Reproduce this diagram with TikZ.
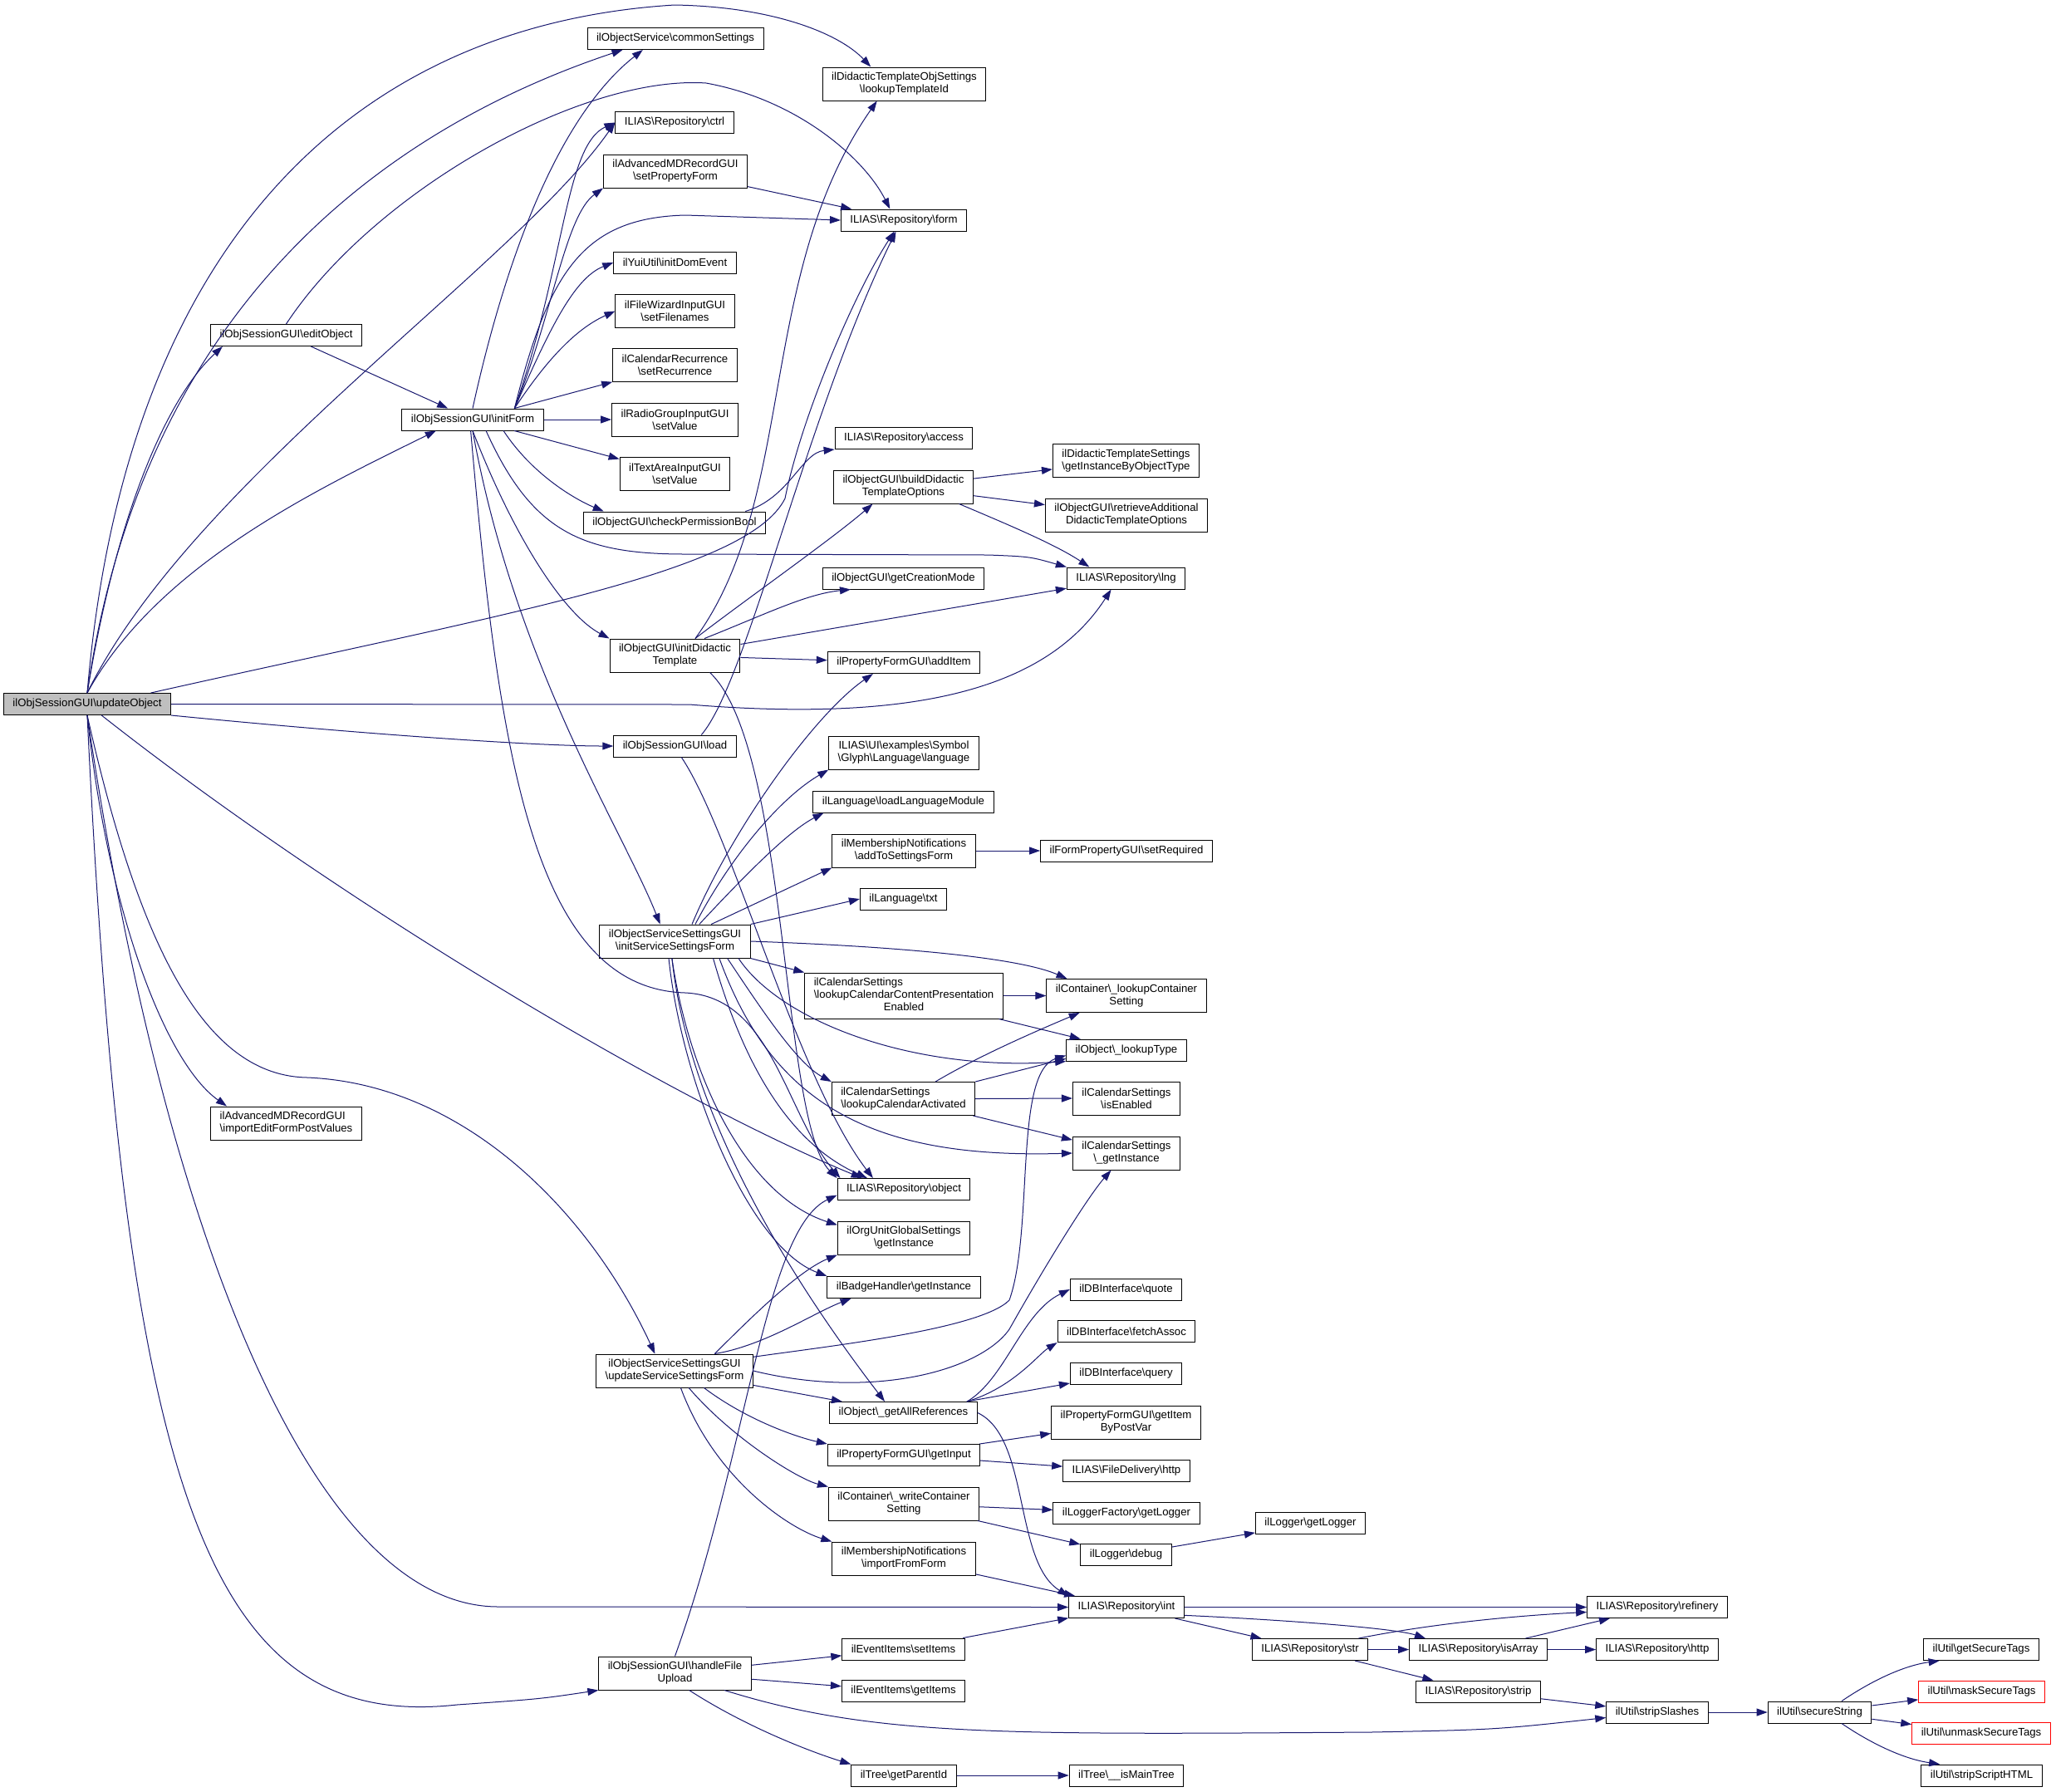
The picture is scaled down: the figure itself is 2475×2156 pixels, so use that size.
\documentclass[tikz,border=0pt]{standalone}
\usepackage{fontspec}
\setmainfont{Liberation Sans}
\usepackage{tikz}
\usetikzlibrary{arrows.meta}

\definecolor{edgeblue}{RGB}{25,25,112}
\definecolor{mainfill}{RGB}{191,191,191}
\newcommand{\bsl}{\textbackslash}
\newcommand{\boxfont}{\fontsize{13.2}{15.1}\selectfont}

\tikzset{
  fn/.style={draw=black, fill=white, line width=1pt, inner xsep=11pt, inner ysep=0pt,
    minimum height=26pt, align=center, font=\boxfont},
  fn2/.style={fn, minimum height=40pt},
  fn3/.style={fn, minimum height=55pt},
  call/.style={draw=edgeblue, line width=1pt, ->},
  >={Triangle[length=13pt,width=9pt]}
}

\begin{document}
\begin{tikzpicture}[x=1pt, y=-1pt]
\fill [white] (0,0) rectangle (2475,2156);
\useasboundingbox (0,0) rectangle (2475,2156);

% caller and first level
\node[fn, fill=mainfill] (upd) at (105,847.5) {ilObjSessionGUI\bsl updateObject};
\node[fn] (editobj) at (344.5,403.5) {ilObjSessionGUI\bsl editObject};
\node[fn2, align=left] (importedit) at (344.5,1352) {ilAdvancedMDRecordGUI\\\bsl importEditFormPostValues};
\node[fn] (initform) at (569,505) {ilObjSessionGUI\bsl initForm};

% column of callees
\node[fn] (commset) at (813,46.5) {ilObjectService\bsl commonSettings};
\node[fn] (ctrl) at (812,147.5) {ILIAS\bsl Repository\bsl ctrl};
\node[fn2] (setprop) at (813,206) {ilAdvancedMDRecordGUI\\\bsl setPropertyForm};
\node[fn] (domev) at (812.5,316) {ilYuiUtil\bsl initDomEvent};
\node[fn2] (setfiles) at (812.5,374.5) {ilFileWizardInputGUI\\\bsl setFilenames};
\node[fn2] (setrec) at (812.5,439.5) {ilCalendarRecurrence\\\bsl setRecurrence};
\node[fn2] (radioval) at (812.5,505) {ilRadioGroupInputGUI\\\bsl setValue};
\node[fn2] (textval) at (812.5,570.5) {ilTextAreaInputGUI\\\bsl setValue};
\node[fn] (checkperm) at (812,629) {ilObjectGUI\bsl checkPermissionBool};
\node[fn2] (initdid) at (812.5,789) {ilObjectGUI\bsl initDidactic\\Template};
\node[fn] (load) at (812.5,898) {ilObjSessionGUI\bsl load};
\node[fn2] (initsvc) at (812.5,1133) {ilObjectServiceSettingsGUI\\\bsl initServiceSettingsForm};
\node[fn2] (updsvc) at (812,1650) {ilObjectServiceSettingsGUI\\\bsl updateServiceSettingsForm};
\node[fn2] (upload) at (812.5,2014) {ilObjSessionGUI\bsl handleFile\\Upload};

% next column
\node[fn2] (tplid) at (1088.5,101) {ilDidacticTemplateObjSettings\\\bsl lookupTemplateId};
\node[fn] (form) at (1088,265) {ILIAS\bsl Repository\bsl form};
\node[fn] (access) at (1088,527.5) {ILIAS\bsl Repository\bsl access};
\node[fn2] (builddid) at (1087.5,586) {ilObjectGUI\bsl buildDidactic\\TemplateOptions};
\node[fn] (creamode) at (1087.5,696) {ilObjectGUI\bsl getCreationMode};
\node[fn] (additem) at (1088,797.5) {ilPropertyFormGUI\bsl addItem};
\node[fn2] (language) at (1088,906) {ILIAS\bsl UI\bsl examples\bsl Symbol\\\bsl Glyph\bsl Language\bsl language};
\node[fn] (loadlang) at (1087.5,965) {ilLanguage\bsl loadLanguageModule};
\node[fn2] (addsettings) at (1088,1024) {ilMembershipNotifications\\\bsl addToSettingsForm};
\node[fn] (txt) at (1087.5,1082) {ilLanguage\bsl txt};
\node[fn3] (calpres) at (1088,1198.5) {\begin{tabular}{@{}l@{}}ilCalendarSettings\\\bsl lookupCalendarContentPresentation\\\multicolumn{1}{@{}c@{}}{Enabled}\end{tabular}};
\node[fn2, align=left] (calact) at (1087.5,1322.5) {ilCalendarSettings\\\bsl lookupCalendarActivated};
\node[fn] (object) at (1088,1431.5) {ILIAS\bsl Repository\bsl object};
\node[fn2] (orgunit) at (1088,1490) {ilOrgUnitGlobalSettings\\\bsl getInstance};
\node[fn] (badge) at (1088,1549.5) {ilBadgeHandler\bsl getInstance};
\node[fn] (allrefs) at (1087.5,1700.5) {ilObject\bsl\_getAllReferences};
\node[fn] (getinput) at (1088,1751.5) {ilPropertyFormGUI\bsl getInput};
\node[fn2] (writecont) at (1088,1810) {ilContainer\bsl\_writeContainer\\Setting};
\node[fn2] (importform) at (1088,1876) {ilMembershipNotifications\\\bsl importFromForm};
\node[fn] (setitems) at (1087.5,1985) {ilEventItems\bsl setItems};
\node[fn] (getitems) at (1087.5,2035.5) {ilEventItems\bsl getItems};
\node[fn] (parentid) at (1088,2137) {ilTree\bsl getParentId};

% third column
\node[fn2] (instbytype) at (1355.5,554.5) {ilDidacticTemplateSettings\\\bsl getInstanceByObjectType};
\node[fn2] (retradd) at (1356,620) {ilObjectGUI\bsl retrieveAdditional\\DidacticTemplateOptions};
\node[fn] (lng) at (1355.5,696) {ILIAS\bsl Repository\bsl lng};
\node[fn] (setreq) at (1356,1024) {ilFormPropertyGUI\bsl setRequired};
\node[fn2] (lookupcont) at (1356,1198.5) {ilContainer\bsl\_lookupContainer\\Setting};
\node[fn] (lookuptype) at (1356,1264) {ilObject\bsl\_lookupType};
\node[fn2] (calenabled) at (1356,1322) {ilCalendarSettings\\\bsl isEnabled};
\node[fn2] (calinst) at (1356,1388) {ilCalendarSettings\\\bsl\_getInstance};
\node[fn] (quote) at (1355.5,1552) {ilDBInterface\bsl quote};
\node[fn] (fetch) at (1356,1602.5) {ilDBInterface\bsl fetchAssoc};
\node[fn] (query) at (1355.5,1653) {ilDBInterface\bsl query};
\node[fn2] (itembypost) at (1355.5,1712) {ilPropertyFormGUI\bsl getItem\\ByPostVar};
\node[fn] (fdhttp) at (1356,1770.5) {ILIAS\bsl FileDelivery\bsl http};
\node[fn] (loggerfac) at (1356,1821) {ilLoggerFactory\bsl getLogger};
\node[fn] (debug) at (1355.5,1871.5) {ilLogger\bsl debug};
\node[fn] (int) at (1356,1934.5) {ILIAS\bsl Repository\bsl int};
\node[fn] (maintree) at (1356,2137) {ilTree\bsl\_\_isMainTree};

% right part
\node[fn] (loggerget) at (1577.5,1833.5) {ilLogger\bsl getLogger};
\node[fn] (str) at (1577,1985.5) {ILIAS\bsl Repository\bsl str};
\node[fn] (isarray) at (1779.5,1985.5) {ILIAS\bsl Repository\bsl isArray};
\node[fn] (strip) at (1779.5,2036) {ILIAS\bsl Repository\bsl strip};
\node[fn] (refinery) at (1995,1934.5) {ILIAS\bsl Repository\bsl refinery};
\node[fn] (rhttp) at (1995,1985.5) {ILIAS\bsl Repository\bsl http};
\node[fn] (slashes) at (1995,2061) {ilUtil\bsl stripSlashes};
\node[fn] (securestr) at (2190.5,2061) {ilUtil\bsl secureString};
\node[fn] (gettags) at (2385,1985.5) {ilUtil\bsl getSecureTags};
\node[fn, draw=red] (masktags) at (2385.5,2036) {ilUtil\bsl maskSecureTags};
\node[fn, draw=red] (unmasktags) at (2385,2086.5) {ilUtil\bsl unmaskSecureTags};
\node[fn] (scripthtml) at (2385.5,2137) {ilUtil\bsl stripScriptHTML};

% calls of updateObject
\draw [call] (upd.north) .. controls (150,300) and (420,30) .. (812,6) .. controls (930,8) and (1010,40) .. (tplid.153);
\draw [call] (upd.north) .. controls (170,380) and (450,160) .. (commset.-168);
\draw [call] (upd.north) .. controls (140,620) and (200,480) .. (editobj.-170);
\draw [call] (upd.north) .. controls (230,580) and (620,320) .. (ctrl.west);
\draw [call] (upd.north) .. controls (190,680) and (380,590) .. (initform.-163);
\draw [call] (upd.10) .. controls (600,740) and (900,690) .. (945,600) .. controls (965,500) and (1030,350) .. (form.-130);
\draw [call] (upd.east) -- (830,848) .. controls (1100,870) and (1260,830) .. (lng.-143);
\draw [call] (upd.south east) .. controls (450,885) and (650,898) .. (load.west);
\draw [call] (upd.-38) .. controls (400,1080) and (800,1320) .. (object.165);
\draw [call] (upd.south) .. controls (130,1100) and (200,1280) .. (importedit.164);
\draw [call] (upd.south) .. controls (170,1150) and (250,1295) .. (370,1297) .. controls (560,1305) and (710,1460) .. (updsvc.139);
\draw [call] (upd.south) .. controls (200,1500) and (380,1934) .. (600,1934) -- (int.west);
\draw [call] (upd.south) .. controls (150,1800) and (250,2085) .. (550,2052) .. controls (650,2045) .. (upload.south west);

% editObject
\draw [call] (editobj) -- (initform);
\draw [call] (editobj.north) .. controls (450,230) and (700,90) .. (850,100) .. controls (960,120) and (1040,190) .. (form.141);

% initForm
\draw [call] (initform.north) .. controls (600,350) and (660,150) .. (commset.-161);
\draw [call] (initform.15) .. controls (680,320) and (680,175) .. (ctrl.west);
\draw [call] (initform.15) .. controls (665,380) and (680,260) .. (setprop.south west);
\draw [call] (initform.15) .. controls (660,330) and (700,262) .. (825,259) -- (form.west);
\draw [call] (initform.15) .. controls (660,400) and (690,335) .. (domev.west);
\draw [call] (initform.15) .. controls (660,430) and (695,395) .. (setfiles.west);
\draw [call] (initform) -- (setrec);
\draw [call] (initform) -- (radioval);
\draw [call] (initform) -- (textval);
\draw [call] (initform.-20) .. controls (640,570) and (690,600) .. (checkperm.171);
\draw [call] (initform.-40) .. controls (640,640) and (700,667) .. (825,667) -- (1190,668) .. controls (1240,670) .. (lng.north west);
\draw [call] (initform.south) .. controls (620,650) and (680,740) .. (initdid.north west);
\draw [call] (initform.south) .. controls (620,800) and (750,1000) .. (initsvc.131);
\draw [call] (initform.-100) .. controls (600,900) and (640,1190) .. (825,1195) .. controls (930,1200) and (945,1340) .. (object.170);

% initDidacticTemplate, load, checkPermissionBool
\draw [call] (initdid.40) .. controls (960,600) and (910,330) .. (tplid.-148);
\draw [call] (initdid.40) .. controls (900,720) and (1000,650) .. (builddid.-151);
\draw [call] (initdid.30) .. controls (920,740) and (970,715) .. (creamode.-168);
\draw [call] (initdid) -- (lng);
\draw [call] (initdid) -- (additem);
\draw [call] (initdid.-26) .. controls (950,900) and (940,1350) .. (object.north west);
\draw [call] (load.23) .. controls (900,820) and (970,500) .. (form.-125);
\draw [call] (load.-60) .. controls (880,1000) and (960,1300) .. (object.160);
\draw [call] (checkperm.9) .. controls (950,600) and (965,545) .. (access.south west);
\draw [call] (setprop) -- (form);

% buildDidacticTemplateOptions
\draw [call] (builddid) -- (instbytype);
\draw [call] (builddid) -- (retradd);
\draw [call] (builddid.-17) .. controls (1210,630) and (1270,655) .. (lng.163);

% initServiceSettingsForm
\draw [call] (initsvc.45) .. controls (880,1000) and (980,860) .. (additem.-160);
\draw [call] (initsvc.40) .. controls (880,1030) and (940,960) .. (language.south west);
\draw [call] (initsvc.35) .. controls (900,1050) and (950,1000) .. (loadlang.-172);
\draw [call] (initsvc) -- (addsettings.south west);
\draw [call] (initsvc.north east) -- (txt.west);
\draw [call] (initsvc.east) .. controls (1050,1138) and (1220,1150) .. (lookupcont.164);
\draw [call] (initsvc.south east) -- (calpres.north west);
\draw [call] (initsvc.-15) .. controls (940,1230) and (1100,1290) .. (lookuptype.south west);
\draw [call] (initsvc.-18) .. controls (920,1220) and (960,1280) .. (calact.north west);
\draw [call] (initsvc.-21) .. controls (930,1330) and (1050,1395) .. (calinst.west);
\draw [call] (initsvc.-24) .. controls (900,1300) and (960,1380) .. (object.163);
\draw [call] (initsvc.-100) .. controls (830,1300) and (900,1440) .. (orgunit.169);
\draw [call] (initsvc.-110) .. controls (820,1300) and (900,1500) .. (badge.north west);
\draw [call] (initsvc.-100) .. controls (830,1350) and (960,1550) .. (allrefs.149);

% calendar settings
\draw [call] (calpres.east) -- (lookupcont.west);
\draw [call] (calpres) -- (lookuptype);
\draw [call] (calact.28) .. controls (1180,1270) and (1250,1240) .. (lookupcont.-160);
\draw [call] (calact.north east) -- (lookuptype.-172);
\draw [call] (calact.east) -- (calenabled.west);
\draw [call] (calact) -- (calinst);
\draw [call] (addsettings) -- (setreq);

% updateServiceSettingsForm
\draw [call] (updsvc.23) .. controls (900,1590) and (960,1530) .. (orgunit.south west);
\draw [call] (updsvc.23) .. controls (920,1620) and (980,1580) .. (badge.-168);
\draw [call] (updsvc.10) .. controls (1000,1620) and (1180,1600) .. (1215,1565) .. controls (1245,1480) and (1220,1290) .. (lookuptype.-175);
\draw [call] (updsvc.east) .. controls (1050,1685) and (1180,1650) .. (1215,1600) .. controls (1260,1520) and (1310,1440) .. (calinst.-132);
\draw [call] (updsvc) -- (allrefs);
\draw [call] (updsvc.-30) .. controls (900,1710) and (960,1730) .. (getinput.north west);
\draw [call] (updsvc.-50) .. controls (880,1730) and (960,1780) .. (writecont.north west);
\draw [call] (updsvc.-70) .. controls (860,1780) and (950,1840) .. (importform.north west);

% getAllReferences and friends
\draw [call] (allrefs.10) .. controls (1210,1660) and (1230,1580) .. (quote.west);
\draw [call] (allrefs.10) .. controls (1220,1670) and (1250,1630) .. (fetch.south west);
\draw [call] (allrefs) -- (query);
\draw [call] (allrefs.east) .. controls (1240,1730) and (1220,1880) .. (int.north west);
\draw [call] (getinput) -- (itembypost);
\draw [call] (getinput) -- (fdhttp);
\draw [call] (writecont) -- (loggerfac);
\draw [call] (writecont) -- (debug);
\draw [call] (debug) -- (loggerget);
\draw [call] (importform) -- (int);
\draw [call] (setitems) -- (int);

% handleFileUpload
\draw [call] (upload.north) .. controls (900,1750) and (920,1480) .. (object.-175);
\draw [call] (upload) -- (setitems);
\draw [call] (upload) -- (getitems);
\draw [call] (upload.-19) .. controls (1050,2090) and (1200,2088) .. (1650,2085) .. controls (1800,2082) .. (slashes.-174);
\draw [call] (upload.-50) .. controls (900,2080) and (980,2110) .. (parentid.north west);
\draw [call] (parentid) -- (maintree);

% repository helpers and ilUtil
\draw [call] (int.east) -- (refinery.west);
\draw [call] (int.-8) .. controls (1550,1950) and (1680,1960) .. (isarray.168);
\draw [call] (int) -- (str);
\draw [call] (str.13) .. controls (1720,1955) and (1820,1945) .. (refinery.-176);
\draw [call] (str) -- (isarray);
\draw [call] (str) -- (strip);
\draw [call] (isarray) -- (refinery);
\draw [call] (isarray) -- (rhttp);
\draw [call] (strip) -- (slashes);
\draw [call] (slashes) -- (securestr);
\draw [call] (securestr.27) .. controls (2250,2025) and (2290,2005) .. (gettags.-165);
\draw [call] (securestr) -- (masktags);
\draw [call] (securestr) -- (unmasktags);
\draw [call] (securestr.-27) .. controls (2250,2097) and (2290,2117) .. (scripthtml.165);
\end{tikzpicture}
\end{document}
